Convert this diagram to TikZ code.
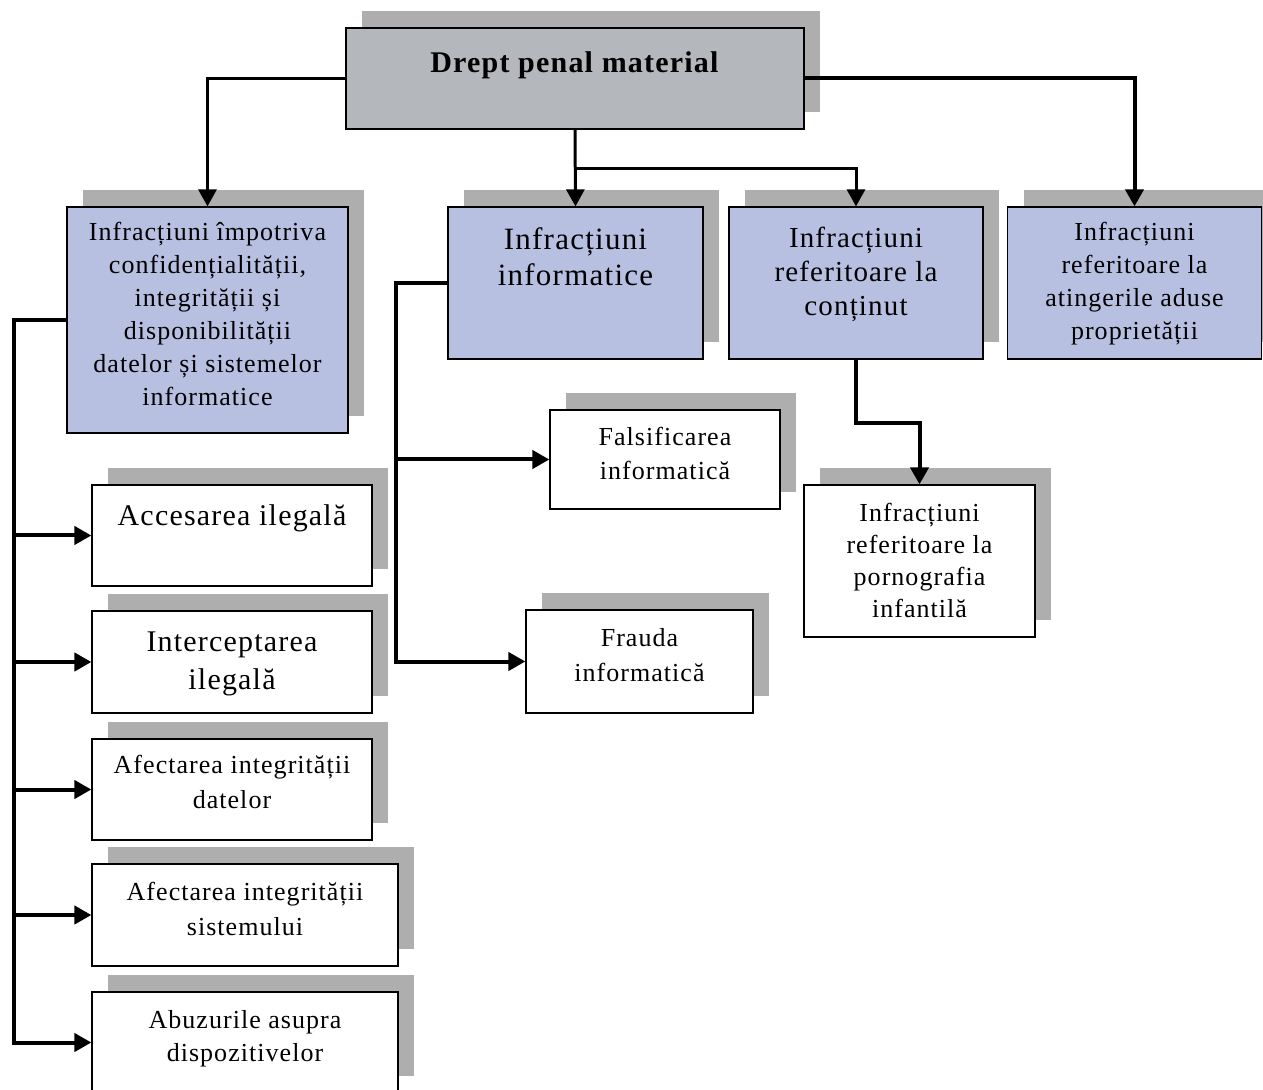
\documentclass[tikz,border=0pt]{standalone}
\usepackage{fontspec}
\setmainfont[LetterSpace=4]{Liberation Serif}
\definecolor{lawgray}{RGB}{180,184,189}
\definecolor{crimeblue}{RGB}{184,192,226}
\definecolor{shadegray}{RGB}{174,174,174}
\usetikzlibrary{arrows.meta, positioning, shadows}

\begin{document}
\begin{tikzpicture}[
     x = 0.5pt, y = -0.5pt,
   box/.style = {draw, line width=0.6pt, fill=#1, inner sep=0pt,
                 drop shadow={shadow xshift=8pt, shadow yshift=8.5pt,
                              fill=shadegray, opacity=1}},
   box/.default = white,
   txt/.style 2 args = {align=center, inner sep=0pt,
                 font=\fontsize{#1}{#2}\selectfont},
  link/.style = {line width=1.5pt, -{Triangle[length=8.5pt, width=9pt]}},
   bus/.style = {link, line width=2pt}
                 ]
\useasboundingbox (0,0) rectangle (1263,1090);

% top level
\node[box=lawgray, minimum width=229pt, minimum height=50.5pt] (law) at (575,78.5) {};
\node[txt={15}{18}, below=12pt of law.north] (lawtxt) {\textbf{Drept penal material}};

% the four groups
\node[box=crimeblue, minimum width=140.5pt, minimum height=113pt] (cia) at (207.5,320) {};
\node[txt={13}{16.5}, below=7.5pt of cia.north] (ciatxt) {Infracțiuni împotriva\\
                     confidențialității,\\ integrității și\\ disponibilității\\
                     datelor și sistemelor\\ informatice};
\node[box=crimeblue, minimum width=127.5pt, minimum height=76pt] (cyber) at (575.5,283) {};
\node[txt={15.5}{18}, below=10.5pt of cyber.north] (cybertxt) {Infracțiuni\\ informatice};
\node[box=crimeblue, minimum width=127pt, minimum height=76pt] (content) at (856,283) {};
\node[txt={14.5}{17}, below=10.2pt of content.north] (contenttxt) {Infracțiuni\\
                     referitoare la\\ conținut};
\node[box=crimeblue, minimum width=127pt, minimum height=76pt] (prop) at (1134.5,283) {};
\node[txt={13}{16.5}, below=7.9pt of prop.north] (proptxt) {Infracțiuni\\
                     referitoare la\\ atingerile aduse\\ proprietății};

% offences against systems and data
\node[box, minimum width=140pt, minimum height=50.5pt] (access) at (232,535.5) {};
\node[txt={15}{19}, below=10pt of access.north] (accesstxt) {Accesarea ilegală};
\node[box, minimum width=140pt, minimum height=51pt] (intercept) at (232,662) {};
\node[txt={15}{19}, below=10.5pt of intercept.north] (intercepttxt) {Interceptarea\\ ilegală};
\node[box, minimum width=140pt, minimum height=50.5pt] (datadmg) at (232,789.5) {};
\node[txt={13}{17.5}, below=8pt of datadmg.north] (datadmgtxt) {Afectarea integrității\\ datelor};
\node[box, minimum width=153pt, minimum height=51pt] (sysdmg) at (245,915) {};
\node[txt={13}{17.5}, below=9pt of sysdmg.north] (sysdmgtxt) {Afectarea integrității\\ sistemului};
\node[box, minimum width=153pt, minimum height=50.5pt] (devices) at (245,1042.5) {};
\node[txt={13}{16.5}, below=9.5pt of devices.north] (devicestxt) {Abuzurile asupra\\ dispozitivelor};

% computer offences
\node[box, minimum width=115pt, minimum height=49.5pt] (forgery) at (665,459.5) {};
\node[txt={13}{17}, below=8.9pt of forgery.north] (forgerytxt) {Falsificarea\\ informatică};
\node[box, minimum width=113.5pt, minimum height=51.5pt] (fraud) at (639.5,661.5) {};
\node[txt={13}{17.5}, below=9.5pt of fraud.north] (fraudtxt) {Frauda\\ informatică};

% content offences
\node[box, minimum width=115.5pt, minimum height=76pt] (porn) at (919.5,561) {};
\node[txt={13}{16}, below=9pt of porn.north] (porntxt) {Infracțiuni\\
                     referitoare la\\ pornografia\\ infantilă};

% connectors
\draw[link] (law.west) -| (cia.north);
\draw[bus]  (law.east) -| (prop.north);
\draw[link] (law.south) -- (cyber.north);
\path (law.south) ++(0,39) coordinate (fork);
\draw[link] (fork) -| (content.north);

\draw[bus] (cia.west) -- ++(-52,0) coordinate (abus) |- (devices.west);
\foreach \n in {access, intercept, datadmg, sysdmg}
  \draw[bus] (abus |- \n.west) -- (\n.west);

\draw[bus] (cyber.west) -- ++(-51,0) coordinate (bbus) |- (fraud.west);
\draw[bus] (bbus |- forgery.west) -- (forgery.west);

\draw[bus] (content.south) -- ++(0,63) -| (porn.north);
\end{tikzpicture}
\end{document}
